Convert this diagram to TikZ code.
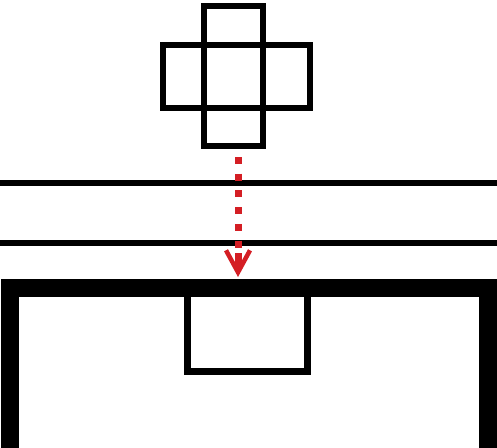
\documentclass[tikz,border=0pt]{standalone}
\usetikzlibrary{arrows.meta, positioning}
\definecolor{arrowred}{RGB}{212,30,36}

\begin{document}
\begin{tikzpicture}[x=1pt, y=-1pt, node distance=50pt and 50pt, on grid]
      \tikzset{cell/.style={draw=black, line width=6pt, inner sep=0pt, minimum width=59pt, minimum height=63pt},
               wall/.style={draw=black, line width=6.5pt},
               drop/.style={draw=arrowred, line width=7pt}}
      \useasboundingbox (0,0) rectangle (497,447);
      % cross of five squares
      \node[cell] (mid) at (233.5,76.5) {};
      \node[cell, minimum height=39pt] (top) [above=51pt of mid] {};
      \node[cell, minimum height=38pt] (bot) [below=50.5pt of mid] {};
      \node[cell, minimum width=41pt] (lft) [left=50pt of mid] {};
      \node[cell, minimum width=47pt] (rgt) [right=53pt of mid] {};
      % the two parallel lines
      \draw[wall] (-5,183) -- (502,183);
      \draw[wall] (-5,243) -- (502,243);
      % the frame below
      \draw[draw=black, line width=18pt] (10,470) -- (10,288) -- (488,288) -- (488,470);
      \draw[draw=black, line width=7pt] (187,288) rectangle (307,371);
      % dotted red arrow
      \coordinate (start) at (238,157);
      \coordinate (bend) at (238,250);
      \coordinate (tip) at (238,277);
      \draw[drop, dash pattern=on 7pt off 9.7pt] (start) -- (bend);
      \draw[drop, -{Straight Barb[length=22pt, width=24pt, line width=4.5pt]}] ([yshift=-3pt]bend) -- (tip);
\end{tikzpicture}
\end{document}
